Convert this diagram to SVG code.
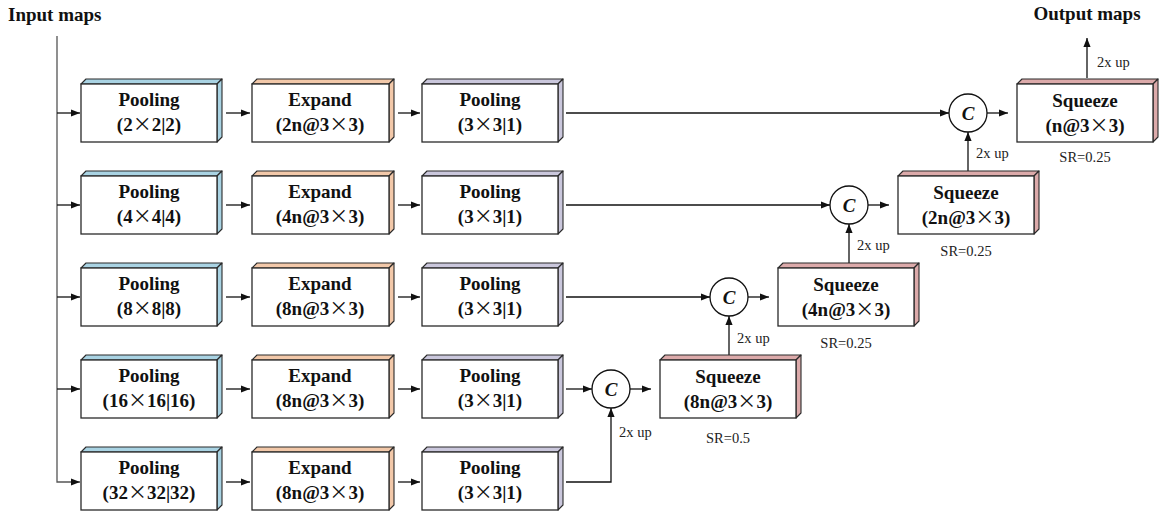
<svg xmlns="http://www.w3.org/2000/svg" width="1159" height="513" viewBox="0 0 1159 513">
<defs>
<marker id="ah" viewBox="0 0 10 10" refX="10" refY="5" markerWidth="9" markerHeight="9" markerUnits="userSpaceOnUse" orient="auto"><path d="M0,1 L10,5 L0,9 z" fill="#111"/></marker>
<style>
.front{fill:#fff;stroke:#2a2a2a;stroke-width:1.3}
.face{stroke:#2a2a2a;stroke-width:1.1;stroke-linejoin:round}
.p1 .face{fill:#a9d3e3}
.ex .face{fill:#f2c8a9}
.p2 .face{fill:#cac7dc}
.sq .face{fill:#dcaaaa}
.lbl{font-family:"Liberation Serif","Times New Roman",serif;font-weight:bold;font-size:19px;text-anchor:middle;fill:#111}
.sm{font-family:"Liberation Serif","Times New Roman",serif;font-size:14.5px;fill:#222}
.smc{font-family:"Liberation Serif","Times New Roman",serif;font-size:14.5px;fill:#222;text-anchor:middle}
.x{font-family:"Noto Sans CJK SC",sans-serif;font-weight:normal}
.conn{stroke:#111;stroke-width:1.3;fill:none}
.circ{fill:#fff;stroke:#111;stroke-width:1.3}
.cc{font-family:"Liberation Serif","Times New Roman",serif;font-weight:bold;font-style:italic;font-size:19px;text-anchor:middle;fill:#111}
</style>
</defs>
<rect width="1159" height="513" fill="#fff"/>
<text class="lbl" x="8" y="21" style="text-anchor:start">Input maps</text>
<text class="lbl" x="1087" y="20">Output maps</text>

<g id="connectors">
<path class="conn" d="M57,36 V482 H80" marker-end="url(#ah)" style="stroke:#555"/>
<path class="conn" d="M57,113 H80" marker-end="url(#ah)"/>
<path class="conn" d="M57,205 H80" marker-end="url(#ah)"/>
<path class="conn" d="M57,297 H80" marker-end="url(#ah)"/>
<path class="conn" d="M57,389 H80" marker-end="url(#ah)"/>
<path class="conn" d="M226,113 H250" marker-end="url(#ah)"/>
<path class="conn" d="M226,205 H250" marker-end="url(#ah)"/>
<path class="conn" d="M226,297 H250" marker-end="url(#ah)"/>
<path class="conn" d="M226,389 H250" marker-end="url(#ah)"/>
<path class="conn" d="M226,482 H250" marker-end="url(#ah)"/>
<path class="conn" d="M398,113 H420" marker-end="url(#ah)"/>
<path class="conn" d="M398,205 H420" marker-end="url(#ah)"/>
<path class="conn" d="M398,297 H420" marker-end="url(#ah)"/>
<path class="conn" d="M398,389 H420" marker-end="url(#ah)"/>
<path class="conn" d="M398,482 H420" marker-end="url(#ah)"/>
<path class="conn" d="M566,113 H949" marker-end="url(#ah)"/>
<path class="conn" d="M566,205 H830" marker-end="url(#ah)"/>
<path class="conn" d="M566,297 H710" marker-end="url(#ah)"/>
<path class="conn" d="M566,389 H592" marker-end="url(#ah)"/>
<path class="conn" d="M566,482 H611 V408" marker-end="url(#ah)"/>
<path class="conn" d="M987,113 H1008" marker-end="url(#ah)"/>
<path class="conn" d="M868,205 H889" marker-end="url(#ah)"/>
<path class="conn" d="M748,297 H769" marker-end="url(#ah)"/>
<path class="conn" d="M630,389 H651" marker-end="url(#ah)"/>
<path class="conn" d="M729,355 V316" marker-end="url(#ah)"/>
<path class="conn" d="M849,263 V224" marker-end="url(#ah)"/>
<path class="conn" d="M968,171 V132" marker-end="url(#ah)"/>
<path class="conn" d="M1087,78 V38" marker-end="url(#ah)"/>
<text class="sm" x="1097" y="67">2x up</text>
<text class="sm" x="976" y="158">2x up</text>
<text class="sm" x="857" y="250">2x up</text>
<text class="sm" x="737" y="343">2x up</text>
<text class="sm" x="619" y="437">2x up</text>
</g>

<!-- Row 1 -->
<g id="pool1_r1" class="p1"><polygon class="face" points="81,84 86,79 222,79 217,84"/><polygon class="face" points="217,84 222,79 222,137 217,142"/><rect class="front" x="81" y="84" width="136" height="58"/><text class="lbl" x="149" y="106">Pooling</text><text class="lbl" x="149" y="131">(2<tspan class="x">×</tspan>2|2)</text></g>
<g id="expand_r1" class="ex"><polygon class="face" points="252,84 257,79 394,79 389,84"/><polygon class="face" points="389,84 394,79 394,137 389,142"/><rect class="front" x="252" y="84" width="137" height="58"/><text class="lbl" x="320" y="106">Expand</text><text class="lbl" x="320" y="131">(2n@3<tspan class="x">×</tspan>3)</text></g>
<g id="pool2_r1" class="p2"><polygon class="face" points="422,84 427,79 563,79 558,84"/><polygon class="face" points="558,84 563,79 563,137 558,142"/><rect class="front" x="422" y="84" width="136" height="58"/><text class="lbl" x="490" y="106">Pooling</text><text class="lbl" x="490" y="131">(3<tspan class="x">×</tspan>3|1)</text></g>

<!-- Row 2 -->
<g id="pool1_r2" class="p1"><polygon class="face" points="81,176 86,171 222,171 217,176"/><polygon class="face" points="217,176 222,171 222,229 217,234"/><rect class="front" x="81" y="176" width="136" height="58"/><text class="lbl" x="149" y="198">Pooling</text><text class="lbl" x="149" y="223">(4<tspan class="x">×</tspan>4|4)</text></g>
<g id="expand_r2" class="ex"><polygon class="face" points="252,176 257,171 394,171 389,176"/><polygon class="face" points="389,176 394,171 394,229 389,234"/><rect class="front" x="252" y="176" width="137" height="58"/><text class="lbl" x="320" y="198">Expand</text><text class="lbl" x="320" y="223">(4n@3<tspan class="x">×</tspan>3)</text></g>
<g id="pool2_r2" class="p2"><polygon class="face" points="422,176 427,171 563,171 558,176"/><polygon class="face" points="558,176 563,171 563,229 558,234"/><rect class="front" x="422" y="176" width="136" height="58"/><text class="lbl" x="490" y="198">Pooling</text><text class="lbl" x="490" y="223">(3<tspan class="x">×</tspan>3|1)</text></g>

<!-- Row 3 -->
<g id="pool1_r3" class="p1"><polygon class="face" points="81,268 86,263 222,263 217,268"/><polygon class="face" points="217,268 222,263 222,321 217,326"/><rect class="front" x="81" y="268" width="136" height="58"/><text class="lbl" x="149" y="290">Pooling</text><text class="lbl" x="149" y="315">(8<tspan class="x">×</tspan>8|8)</text></g>
<g id="expand_r3" class="ex"><polygon class="face" points="252,268 257,263 394,263 389,268"/><polygon class="face" points="389,268 394,263 394,321 389,326"/><rect class="front" x="252" y="268" width="137" height="58"/><text class="lbl" x="320" y="290">Expand</text><text class="lbl" x="320" y="315">(8n@3<tspan class="x">×</tspan>3)</text></g>
<g id="pool2_r3" class="p2"><polygon class="face" points="422,268 427,263 563,263 558,268"/><polygon class="face" points="558,268 563,263 563,321 558,326"/><rect class="front" x="422" y="268" width="136" height="58"/><text class="lbl" x="490" y="290">Pooling</text><text class="lbl" x="490" y="315">(3<tspan class="x">×</tspan>3|1)</text></g>

<!-- Row 4 -->
<g id="pool1_r4" class="p1"><polygon class="face" points="81,360 86,355 222,355 217,360"/><polygon class="face" points="217,360 222,355 222,413 217,418"/><rect class="front" x="81" y="360" width="136" height="58"/><text class="lbl" x="149" y="382">Pooling</text><text class="lbl" x="149" y="407">(16<tspan class="x">×</tspan>16|16)</text></g>
<g id="expand_r4" class="ex"><polygon class="face" points="252,360 257,355 394,355 389,360"/><polygon class="face" points="389,360 394,355 394,413 389,418"/><rect class="front" x="252" y="360" width="137" height="58"/><text class="lbl" x="320" y="382">Expand</text><text class="lbl" x="320" y="407">(8n@3<tspan class="x">×</tspan>3)</text></g>
<g id="pool2_r4" class="p2"><polygon class="face" points="422,360 427,355 563,355 558,360"/><polygon class="face" points="558,360 563,355 563,413 558,418"/><rect class="front" x="422" y="360" width="136" height="58"/><text class="lbl" x="490" y="382">Pooling</text><text class="lbl" x="490" y="407">(3<tspan class="x">×</tspan>3|1)</text></g>

<!-- Row 5 -->
<g id="pool1_r5" class="p1"><polygon class="face" points="81,452 86,447 222,447 217,452"/><polygon class="face" points="217,452 222,447 222,505 217,510"/><rect class="front" x="81" y="452" width="136" height="58"/><text class="lbl" x="149" y="474">Pooling</text><text class="lbl" x="149" y="499">(32<tspan class="x">×</tspan>32|32)</text></g>
<g id="expand_r5" class="ex"><polygon class="face" points="252,452 257,447 394,447 389,452"/><polygon class="face" points="389,452 394,447 394,505 389,510"/><rect class="front" x="252" y="452" width="137" height="58"/><text class="lbl" x="320" y="474">Expand</text><text class="lbl" x="320" y="499">(8n@3<tspan class="x">×</tspan>3)</text></g>
<g id="pool2_r5" class="p2"><polygon class="face" points="422,452 427,447 563,447 558,452"/><polygon class="face" points="558,452 563,447 563,505 558,510"/><rect class="front" x="422" y="452" width="136" height="58"/><text class="lbl" x="490" y="474">Pooling</text><text class="lbl" x="490" y="499">(3<tspan class="x">×</tspan>3|1)</text></g>

<!-- Concat circles -->
<g id="concat_r1"><circle class="circ" cx="968" cy="113" r="19"/><text class="cc" x="968" y="120">C</text></g>
<g id="concat_r2"><circle class="circ" cx="849" cy="205" r="19"/><text class="cc" x="849" y="212">C</text></g>
<g id="concat_r3"><circle class="circ" cx="729" cy="297" r="19"/><text class="cc" x="729" y="304">C</text></g>
<g id="concat_r4"><circle class="circ" cx="611" cy="389" r="19"/><text class="cc" x="611" y="396">C</text></g>

<!-- Squeeze boxes -->
<g id="squeeze_r1" class="sq"><polygon class="face" points="1017,84 1022,79 1158,79 1153,84"/><polygon class="face" points="1153,84 1158,79 1158,137 1153,142"/><rect class="front" x="1017" y="84" width="136" height="58"/><text class="lbl" x="1085" y="107">Squeeze</text><text class="lbl" x="1085" y="132">(n@3<tspan class="x">×</tspan>3)</text><text class="smc" x="1085" y="162">SR=0.25</text></g>
<g id="squeeze_r2" class="sq"><polygon class="face" points="898,176 903,171 1039,171 1034,176"/><polygon class="face" points="1034,176 1039,171 1039,229 1034,234"/><rect class="front" x="898" y="176" width="136" height="58"/><text class="lbl" x="966" y="199">Squeeze</text><text class="lbl" x="966" y="224">(2n@3<tspan class="x">×</tspan>3)</text><text class="smc" x="966" y="256">SR=0.25</text></g>
<g id="squeeze_r3" class="sq"><polygon class="face" points="778,268 783,263 919,263 914,268"/><polygon class="face" points="914,268 919,263 919,321 914,326"/><rect class="front" x="778" y="268" width="136" height="58"/><text class="lbl" x="846" y="291">Squeeze</text><text class="lbl" x="846" y="316">(4n@3<tspan class="x">×</tspan>3)</text><text class="smc" x="846" y="348">SR=0.25</text></g>
<g id="squeeze_r4" class="sq"><polygon class="face" points="660,360 665,355 801,355 796,360"/><polygon class="face" points="796,360 801,355 801,413 796,418"/><rect class="front" x="660" y="360" width="136" height="58"/><text class="lbl" x="728" y="383">Squeeze</text><text class="lbl" x="728" y="408">(8n@3<tspan class="x">×</tspan>3)</text><text class="smc" x="728" y="443">SR=0.5</text></g>
</svg>
